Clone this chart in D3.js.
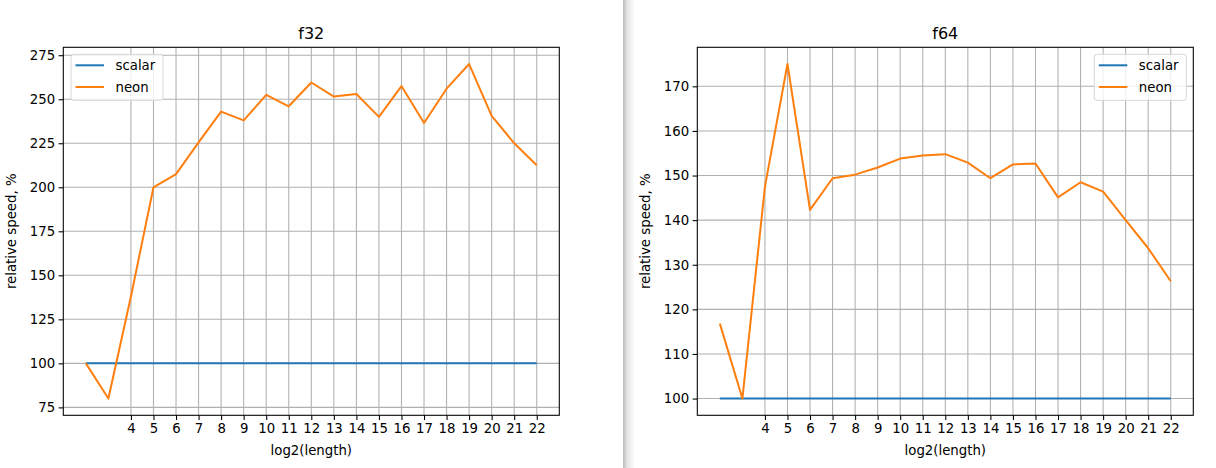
<!DOCTYPE html>
<html><head><meta charset="utf-8">
<script src="https://cdn.jsdelivr.net/npm/d3@7"></script>
<style>
body{margin:0;background:#fff;}
text{font-family:"DejaVu Sans",sans-serif;fill:#000;}
</style></head>
<body>
<svg id="c" width="1216" height="468"></svg>
<script>
const lengths = [2,3,4,5,6,7,8,9,10,11,12,13,14,15,16,17,18,19,20,21,22];
const xTickLabels = [4,5,6,7,8,9,10,11,12,13,14,15,16,17,18,19,20,21,22];
const f32Scalar = [100,100,100,100,100,100,100,100,100,100,100,100,100,100,100,100,100,100,100,100,100];
const f32Neon = [100,80,138,200,207.5,225.5,243,238,252.5,246,259.5,251.5,253,240,257.5,236.5,256,270,240.5,225,212.5];
const f64Scalar = [100,100,100,100,100,100,100,100,100,100,100,100,100,100,100,100,100,100,100,100,100];
const f64Neon = [116.8,100,147.5,175,142.3,149.4,150.2,151.8,153.8,154.5,154.8,152.9,149.4,152.5,152.7,145.1,148.5,146.4,140,133.7,126.3];
const f32YTicks = [75,100,125,150,175,200,225,250,275];
const f64YTicks = [100,110,120,130,140,150,160,170];

const svg = d3.select("#c");
const defs = svg.append("defs");
const g = defs.append("linearGradient").attr("id","sh").attr("x1","0").attr("x2","1");
g.append("stop").attr("offset","0").attr("stop-color","#bcbcbc");
g.append("stop").attr("offset","0.35").attr("stop-color","#e4e4e4");
g.append("stop").attr("offset","1").attr("stop-color","#ffffff");
svg.append("rect").attr("x",623).attr("y",0).attr("width",12).attr("height",468).attr("fill","url(#sh)");

const FS = 13.3;
function panel(opt){
  const {left,right,top,bottom,title,scalar,neon,yTicks,legendRight} = opt;
  const root = svg.append("g");
  const xmin=d3.min(lengths), xmax=d3.max(lengths);
  const xpad=(xmax-xmin)*0.05;
  const all=scalar.concat(neon);
  const ymin=d3.min(all), ymax=d3.max(all), ypad=(ymax-ymin)*0.05;
  const x=d3.scaleLinear().domain([xmin-xpad,xmax+xpad]).range([left,right]);
  const y=d3.scaleLinear().domain([ymin-ypad,ymax+ypad]).range([bottom,top]);
  // grid
  root.append("g").selectAll("line").data(xTickLabels).join("line")
    .attr("x1",d=>x(d)).attr("x2",d=>x(d)).attr("y1",top).attr("y2",bottom)
    .attr("stroke","#b0b0b0").attr("stroke-width",1.07);
  root.append("g").selectAll("line").data(yTicks).join("line")
    .attr("y1",d=>y(d)).attr("y2",d=>y(d)).attr("x1",left).attr("x2",right)
    .attr("stroke","#b0b0b0").attr("stroke-width",1.07);
  // lines
  const line=d3.line().x((d,i)=>x(lengths[i])).y(d=>y(d));
  root.append("path").datum(scalar).attr("d",line).attr("fill","none").attr("stroke","#1f77b4").attr("stroke-width",2);
  root.append("path").datum(neon).attr("d",line).attr("fill","none").attr("stroke","#ff7f0e").attr("stroke-width",2).attr("stroke-linejoin","round");
  // axes
  const xa=d3.axisBottom(x).tickValues(xTickLabels).tickSize(4.7).tickPadding(3.5).tickFormat(d3.format("d"));
  const gx=root.append("g").attr("transform",`translate(0,${bottom})`).call(xa);
  const ya=d3.axisLeft(y).tickValues(yTicks).tickSize(4.7).tickPadding(3.5).tickFormat(d3.format("d"));
  const gy=root.append("g").attr("transform",`translate(${left},0)`).call(ya);
  [gx,gy].forEach(a=>{a.select(".domain").remove();a.selectAll("text").attr("font-size",FS).attr("font-family","DejaVu Sans").attr("fill","#000");a.selectAll("line").attr("stroke","#000").attr("stroke-width",1.07);});
  root.append("rect").attr("x",left).attr("y",top).attr("width",right-left).attr("height",bottom-top)
    .attr("fill","none").attr("stroke","#000").attr("stroke-width",1.07);
  root.append("text").attr("x",(left+right)/2).attr("y",39).attr("text-anchor","middle").attr("font-size",16).text(title);
  root.append("text").attr("x",(left+right)/2).attr("y",455).attr("text-anchor","middle").attr("font-size",FS).text("log2(length)");
  root.append("text").attr("transform",`translate(${left-47},${(top+bottom)/2}) rotate(-90)`).attr("text-anchor","middle").attr("font-size",FS).text("relative speed, %");
  // legend
  const lw=92, lh=46;
  const lx = legendRight ? right-7-lw : left+7.7;
  const ly = top+7;
  const lg=root.append("g").attr("transform",`translate(${lx},${ly})`);
  lg.append("rect").attr("width",lw).attr("height",lh).attr("rx",2.5).attr("fill","#fff").attr("fill-opacity",0.8).attr("stroke","#d6d6d6").attr("stroke-width",1);
  const items=[["scalar","#1f77b4"],["neon","#ff7f0e"]];
  items.forEach((it,i)=>{
    const yy=11+i*21.7;
    lg.append("line").attr("x1",4.5).attr("x2",33).attr("y1",yy).attr("y2",yy).attr("stroke",it[1]).attr("stroke-width",2);
    lg.append("text").attr("x",44.5).attr("y",yy+4.7).attr("font-size",FS).text(it[0]);
  });
}
panel({left:63.3,right:559.3,top:47.3,bottom:415.3,title:"f32",scalar:f32Scalar,neon:f32Neon,yTicks:f32YTicks,legendRight:false});
panel({left:697.3,right:1193.3,top:47.3,bottom:415.3,title:"f64",scalar:f64Scalar,neon:f64Neon,yTicks:f64YTicks,legendRight:true});
</script>
</body></html>
